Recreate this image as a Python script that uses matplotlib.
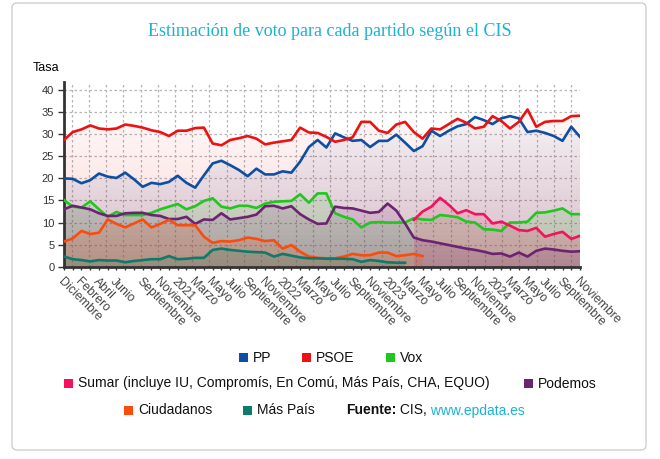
import numpy as np
import matplotlib
matplotlib.use('Agg')
import matplotlib.pyplot as plt
import matplotlib.colors as mcolors
from matplotlib.patches import FancyBboxPatch, Rectangle

nan = np.nan

# un punto por barómetro, de diciembre 2019 a noviembre 2024
pp = [20.0, 19.9, 18.9, 19.6, 21.1, 20.4, 20.1, 21.3, 19.8, 18.1, 19.0, 18.7, 19.2, 20.6, 19.0, 17.9, 20.7, 23.4, 24.0, 23.0, 21.9,
      20.5, 22.2, 20.9, 20.9, 21.6, 21.3, 23.8, 27.1, 28.7, 27.0, 30.2, 29.3, 28.5, 28.7, 27.1, 28.5, 28.5, 29.9, 28.1, 26.2,
      27.3, 30.8, 29.6, 30.8, 31.8, 32.3, 33.9, 33.2, 32.3, 33.6, 34.1, 33.6, 30.5, 30.8, 30.3, 29.6, 28.5, 31.7, 29.4]
psoe = [28.7, 30.5, 31.1, 32.0, 31.3, 31.1, 31.3, 32.2, 31.9, 31.5, 30.9, 30.5, 29.6, 30.8, 30.8, 31.4, 31.5, 27.9, 27.5, 28.7, 29.1,
        29.6, 29.0, 27.7, 28.1, 28.4, 28.7, 31.5, 30.4, 30.3, 29.4, 28.3, 28.7, 29.3, 32.8, 32.8, 30.8, 30.3, 32.2, 32.8, 30.5,
        29.0, 31.3, 31.1, 32.3, 33.5, 32.6, 31.3, 31.7, 34.1, 33.0, 31.3, 32.8, 35.6, 31.7, 32.8, 33.0, 33.0, 34.1, 34.2]
vox = [15.1, 13.6, 13.4, 14.8, 13.0, 11.3, 12.4, 11.7, 11.7, 11.7, 12.2, 13.0, 13.6, 14.2, 13.0, 13.7, 14.9, 15.5, 13.6, 13.2, 13.8,
       13.8, 13.3, 14.3, 14.7, 14.8, 14.9, 16.4, 14.5, 16.6, 16.6, 12.1, 11.3, 10.7, 8.9, 10.0, 10.1, 10.0, 10.0, 10.0, 11.0,
       10.7, 10.6, 11.7, 11.5, 11.2, 10.2, 10.0, 8.5, 8.4, 8.1, 10.0, 10.0, 10.2, 12.2, 12.3, 12.7, 13.2, 11.9, 11.9]
sumar = [nan] * 40 + [10.6, 12.5, 13.6, 15.6, 14.0, 12.1, 12.8, 11.9, 11.9, 9.8, 10.2, 9.3, 8.3, 8.1, 8.8, 6.8, 7.4, 7.9, 6.3, 7.0]
podemos = [13.0, 13.8, 13.4, 13.0, 12.1, 11.5, 11.5, 12.1, 12.2, 12.2, 11.7, 11.5, 10.8, 10.8, 11.3, 9.7, 10.7, 10.6, 12.1, 10.7, 11.0,
           11.3, 11.8, 13.7, 13.8, 13.2, 13.7, 11.9, 10.7, 9.7, 9.8, 13.6, 13.3, 13.2, 12.7, 12.2, 12.4, 14.3, 12.7, 9.8, 6.6,
           6.0, 5.7, 5.3, 4.9, 4.5, 4.1, 3.8, 3.4, 2.9, 3.0, 2.3, 3.2, 2.3, 3.6, 4.1, 3.9, 3.6, 3.4, 3.5]
ciudadanos = [5.7, 6.4, 8.1, 7.4, 7.7, 10.7, 9.7, 8.9, 9.8, 10.7, 8.9, 9.7, 10.6, 9.4, 9.4, 9.4, 6.8, 5.4, 5.8, 5.7, 6.0,
              6.6, 6.3, 5.8, 6.0, 4.1, 4.9, 3.4, 2.3, 2.0, 1.9, 1.9, 2.3, 2.9, 2.6, 2.6, 3.2, 3.2, 2.4, 2.6, 2.9, 2.4] + [nan] * 18
mas_pais = [2.3, 1.7, 1.5, 1.2, 1.5, 1.4, 1.4, 1.0, 1.3, 1.5, 1.7, 1.7, 2.4, 1.7, 1.8, 2.0, 2.0, 3.8, 4.1, 3.8, 3.6,
            3.4, 3.3, 3.2, 2.3, 2.9, 2.5, 2.1, 1.9, 1.9, 1.8, 1.8, 1.8, 1.7, 1.1, 1.5, 1.3, 1.0, 0.9, 0.9] + [nan] * 20

tick_idx = [0, 2, 4, 6, 9, 11, 13, 15, 17, 19, 21, 23, 25, 27, 29, 31, 33, 35, 37, 39, 41, 43, 45, 47, 49, 51, 53, 55, 57, 59]
tick_txt = ['Diciembre', 'Febrero', 'Abril', 'Junio', 'Septiembre', 'Noviembre', '2021', 'Marzo', 'Mayo', 'Julio',
            'Septiembre', 'Noviembre', '2022', 'Marzo', 'Mayo', 'Julio', 'Septiembre', 'Noviembre', '2023', 'Marzo',
            'Mayo', 'Julio', 'Septiembre', 'Noviembre', '2024', 'Marzo', 'Mayo', 'Julio', 'Septiembre', 'Noviembre']

series = [('PP', pp, '#0d4fa3'), ('PSOE', psoe, '#ee1111'), ('Vox', vox, '#1ec81e'),
          ('Sumar (incluye IU, Compromís, En Comú, Más País, CHA, EQUO)', sumar, '#f5115c'),
          ('Podemos', podemos, '#6c2472'), ('Ciudadanos', ciudadanos, '#fb4c0e'), ('Más País', mas_pais, '#0d7b69')]

W, H = 660, 459
YTOP = 41.9
plt.rcParams['font.family'] = ['Liberation Sans', 'DejaVu Sans']

fig = plt.figure(figsize=(W / 100, H / 100), dpi=100)


def px(x, y):
    return x / W, 1 - y / H


ax = fig.add_axes([64 / W, 1 - 266.7 / H, 516 / W, (266.7 - 81.7) / H])

x_all = np.arange(60)
for name, vals, col in series:
    v = np.array(vals, dtype=float)
    ok = ~np.isnan(v)
    x, y = x_all[ok], v[ok]
    poly = ax.fill_between(x, y, 0, facecolor='none', edgecolor='none')
    grad = np.zeros((200, 1, 4))
    grad[:, 0, :3] = mcolors.to_rgb(col)
    grad[:, 0, 3] = np.linspace(0.18, 0.0, 200)
    im = ax.imshow(grad, aspect='auto', extent=[x.min(), x.max(), 0, YTOP], origin='lower', zorder=1)
    im.set_clip_path(poly.get_paths()[0], transform=ax.transData)

for name, vals, col in series:
    ax.plot(x_all, vals, color=col, lw=1.9, zorder=3, solid_joinstyle='round')

ax.set_xlim(0, 59)
ax.set_ylim(0, YTOP)

# rejilla punteada
for gx in np.arange(0.88, 59, 1.969):
    ax.axvline(gx, color='#b5b5b5', lw=0.9, ls=(0, (2, 2)), zorder=0.5)
for gy in range(5, 41, 5):
    ax.axhline(gy, color='#b5b5b5', lw=0.9, ls=(0, (2, 2)), zorder=0.5)

ax.set_yticks(range(0, 41, 5))
ax.tick_params(axis='y', length=4, width=1, color='#333333', labelsize=8, labelcolor='#333333', pad=3)
ax.set_xticks(tick_idx)
ax.set_xticklabels(tick_txt, rotation=-45, ha='left', va='top', rotation_mode='anchor', fontsize=8.8, color='#444444')
ax.set_xticks(np.arange(0, 60, 1), minor=True)
ax.tick_params(axis='x', which='both', length=2.5, width=1, color='#333333', pad=4)

for s in ['top', 'right']:
    ax.spines[s].set_visible(False)
ax.spines['left'].set_linewidth(2)
ax.spines['bottom'].set_linewidth(2)
ax.spines['left'].set_color('#333333')
ax.spines['bottom'].set_color('#333333')
ax.set_facecolor('white')

fig.text(*px(33, 68), 'Tasa', fontsize=9, va='center', ha='left', color='black')

fig.text(*px(330, 32), 'Estimación de voto para cada partido según el CIS', family=['Liberation Serif'],
         fontsize=13, color='#1ab3d3', ha='center', va='center')

# leyenda manual en tres filas
FS = 10
filas = [(357, [(239, 0), (302, 1), (386, 2)]),
         (383, [(64, 3), (524, 4)]),
         (410, [(124, 5), (243, 6)])]
for yy, items in filas:
    for xx, k in items:
        name, vals, col = series[k]
        fig.add_artist(Rectangle(px(xx, yy + 4.5), 9 / W, 9 / H, transform=fig.transFigure, color=col, lw=0))
        fig.text(*px(xx + 14, yy + 4.5), name, fontsize=FS, va='baseline', ha='left', color='#111111')

fig.canvas.draw()
r = fig.canvas.get_renderer()
t1 = fig.text(*px(346, 414.5), 'Fuente:', fontsize=FS, weight='bold', va='baseline', ha='left', color='#111111')
bb = t1.get_window_extent(r)
t2 = fig.text(bb.x1 / W, 1 - 414.5 / H, ' CIS,', fontsize=FS, va='baseline', ha='left', color='#111111')
bb2 = t2.get_window_extent(r)
fig.text(bb2.x1 / W, 1 - 414.5 / H, ' www.epdata.es', fontsize=FS, va='baseline', ha='left', color='#1ab3d3')

fig.add_artist(FancyBboxPatch((12, 9), 634, 447, boxstyle='round,pad=0,rounding_size=5', transform=None,
                              fill=False, ec='#cfcfcf', lw=1))

fig.savefig('out.png', dpi=100)
